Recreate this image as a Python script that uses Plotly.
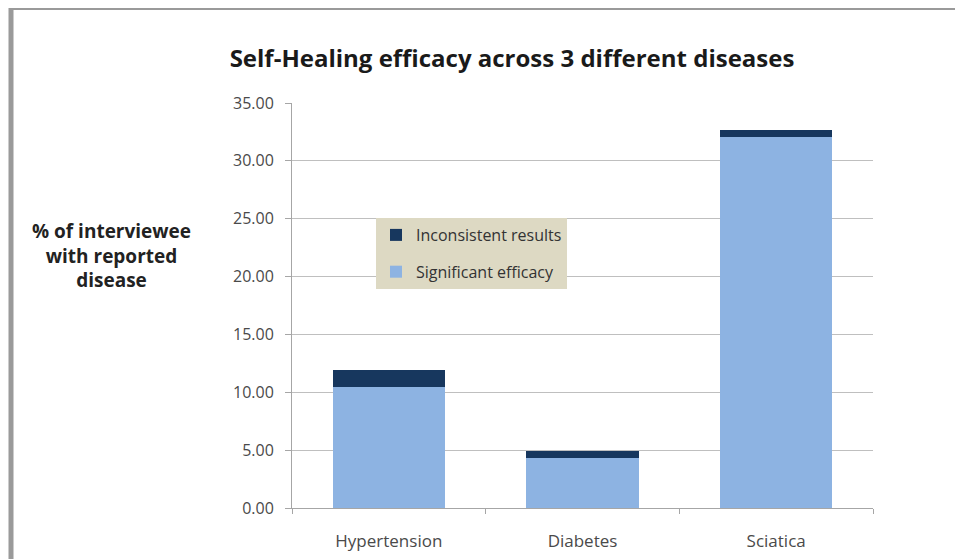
import plotly.graph_objects as go

categories = ["Hypertension", "Diabetes", "Sciatica"]
significant_efficacy = [10.45, 4.35, 32.05]
inconsistent_results = [1.45, 0.6, 0.6]
y_ticks = [0, 5, 10, 15, 20, 25, 30, 35]
y_tick_labels = ["0.00", "5.00", "10.00", "15.00", "20.00", "25.00", "30.00", "35.00"]

FONT = "Open Sans"
OFF = 8  # page body margin
W, H = 963 - OFF, 559 - OFF
# plot area edges in page pixels
L, R, T, B = 292, 873, 103, 508

def px_x(px):
    return (px - L) / (R - L)

def px_y(py):
    return (B - py) / (B - T)

fig = go.Figure()
fig.add_trace(go.Bar(
    x=categories, y=significant_efficacy, name="Significant efficacy",
    legendgroup="sig", legendrank=2,
    marker=dict(color="#8db3e2", line=dict(width=0)),
))
fig.add_trace(go.Bar(
    x=categories, y=inconsistent_results, name="Inconsistent results",
    legendgroup="inc", legendrank=1,
    marker=dict(color="#17375e", line=dict(width=0)),
))

fig.update_layout(
    width=W, height=H,
    barmode="stack", bargap=0.42,
    paper_bgcolor="white", plot_bgcolor="white",
    margin=dict(l=L - OFF, r=(W + OFF) - R, t=T - OFF, b=(H + OFF) - B, autoexpand=False),
    title=dict(
        text="<b>Self-Healing efficacy across 3 different diseases</b>",
        x=(512 - OFF) / W, xanchor="center", y=1 - (59 - OFF) / H, yanchor="middle",
        font=dict(family=FONT, size=24, color="#1a1a1a"),
    ),
    font=dict(family=FONT, size=14, color="#404040"),
    showlegend=True,
    legend=dict(
        x=px_x(376), y=px_y(218), xanchor="left", yanchor="top",
        bgcolor="#ddd9c3", borderwidth=0, traceorder="grouped",
        tracegroupgap=13,
        font=dict(family=FONT, size=16, color="#333333"),
    ),
    xaxis=dict(
        showline=True, linecolor="#a6a6a6", linewidth=1,
        ticks="outside", tickson="boundaries", ticklen=5, tickcolor="#a6a6a6",
        showgrid=False, tickfont=dict(size=17, color="#4a4a4a"),
        ticklabelstandoff=18,
    ),
    yaxis=dict(
        range=[0, 35], tickvals=y_ticks, ticktext=y_tick_labels,
        showline=True, linecolor="#a6a6a6", linewidth=1,
        ticks="outside", ticklen=6, tickcolor="#a6a6a6",
        showgrid=True, gridcolor="#bfbfbf", gridwidth=1,
        tickfont=dict(size=16, color="#4a4a4a"), zeroline=False,
        ticklabelstandoff=8,
    ),
    annotations=[dict(
        text="<b>% of interviewee<br>with reported<br>disease</b>",
        xref="paper", yref="paper", x=px_x(111), y=px_y(255),
        xanchor="center", yanchor="middle", showarrow=False, align="center",
        font=dict(family=FONT, size=19, color="#222222"),
    )],
    shapes=[
        dict(type="line", xref="paper", yref="paper",
             x0=px_x(11), x1=px_x(970), y0=px_y(8.5), y1=px_y(8.5),
             line=dict(color="#9a9a9a", width=3)),
        dict(type="line", xref="paper", yref="paper",
             x0=px_x(11), x1=px_x(11), y0=px_y(8), y1=px_y(570),
             line=dict(color="#9a9a9a", width=5)),
    ],
)

fig.write_html("out.html")
